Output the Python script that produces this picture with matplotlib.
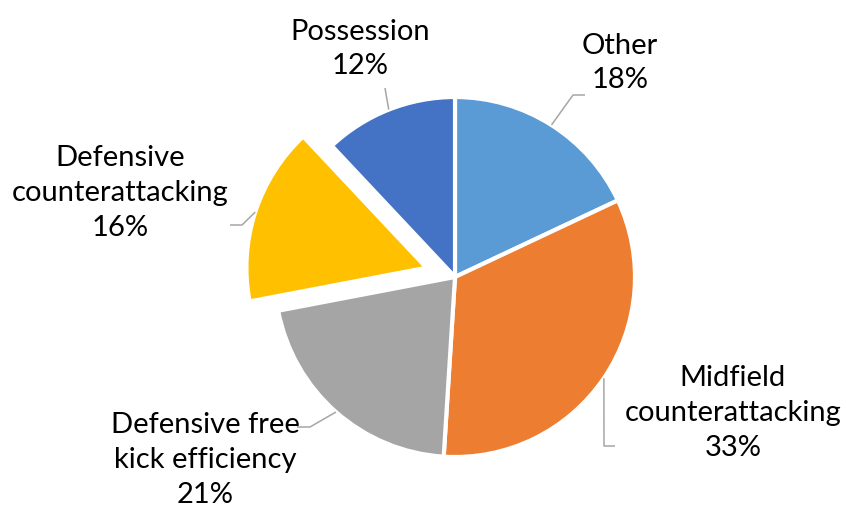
import matplotlib.pyplot as plt
import numpy as np

# Share of goals by attacking pattern (clockwise from 12 o'clock)
categories = ["Other", "Midfield\ncounterattacking", "Defensive free\nkick efficiency",
              "Defensive\ncounterattacking", "Possession"]
shares = [18, 33, 21, 16, 12]
colors = ["#5B9BD5", "#ED7D31", "#A5A5A5", "#FFC000", "#4472C4"]
explode = [0, 0, 0, 0.167, 0]

W, H = 846, 512
fig = plt.figure(figsize=(W / 100, H / 100), dpi=100)
ax = fig.add_axes([0, 0, 1, 1])

cx, cy, r = 455, H - 277, 180
# pie offsets slices in data units, so scale the explode fractions by the radius
wedges, _ = ax.pie(shares, colors=colors, explode=[e * r for e in explode],
                   startangle=90, counterclock=False, center=(cx, cy), radius=r,
                   frame=True, wedgeprops=dict(edgecolor="white", linewidth=3))
ax.set_xlim(0, W)
ax.set_ylim(0, H)
ax.set_aspect("equal")
ax.axis("off")

# label centre, leader elbow, leader end (pixel coords from top-left)
label_pos = [(620, 63), (733, 413), (205, 460), (120, 193), (360, 49)]
leaders = [[(573, 95), (585, 95)],
           [(604, 446), (615, 446)],
           [(310, 427), (297, 427)],
           [(242, 225), (230, 225)],
           [(385, 88)]]

for w, name, val, (lx, ly), pts in zip(wedges, categories, shares, label_pos, leaders):
    ax.text(lx, H - ly, f"{name}\n{val}%", ha="center", va="center",
            fontsize=21, family="Lato", color="black", linespacing=1.42)
    mid = np.deg2rad((w.theta1 + w.theta2) / 2)
    wx, wy = w.center
    start = (wx + w.r * np.cos(mid), wy + w.r * np.sin(mid))
    xs = [start[0]] + [p[0] for p in pts]
    ys = [start[1]] + [H - p[1] for p in pts]
    ax.plot(xs, ys, color="#A6A6A6", linewidth=1.1, solid_capstyle="butt")

fig.savefig("out.png", dpi=100, facecolor="white")
